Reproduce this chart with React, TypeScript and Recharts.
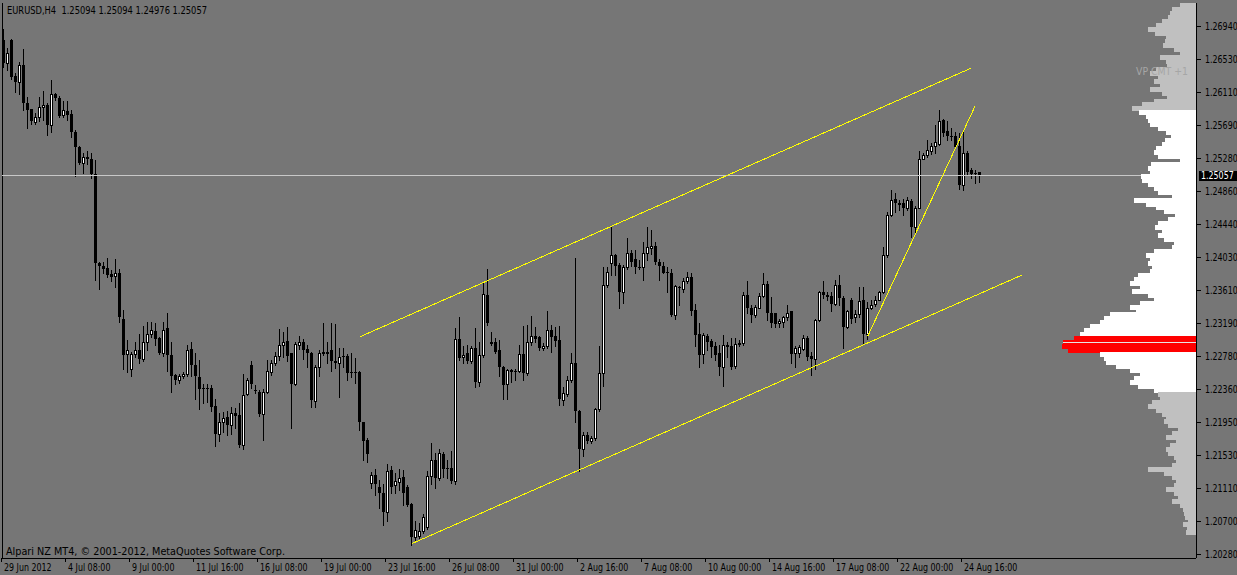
import React from 'react';
import { ComposedChart, BarChart, Bar, XAxis, YAxis, ReferenceLine } from 'recharts';

// ---------- EURUSD H4 candles (bar index 0 = 29 Jun 2012 16:00) ----------
const opens = [
  1.2677,1.2648,1.2676,1.2631,1.2623,1.2645,1.2597,1.2590,1.2573,1.2579,
  1.2592,1.2595,1.2569,1.2609,1.2604,1.2582,1.2587,1.2583,1.2561,1.2541,
  1.2522,1.2529,1.2527,1.2508,1.2395,1.2391,1.2389,1.2381,1.2379,1.2382,
  1.2325,1.2280,1.2261,1.2280,1.2285,1.2274,1.2296,1.2306,1.2310,1.2300,
  1.2282,1.2313,1.2279,1.2254,1.2247,1.2252,1.2255,1.2287,1.2266,1.2251,
  1.2237,1.2237,1.2237,1.2215,1.2180,1.2194,1.2201,1.2191,1.2206,1.2203,
  1.2166,1.2230,1.2266,1.2235,1.2232,1.2205,1.2232,1.2258,1.2269,1.2278,
  1.2292,1.2297,1.2281,1.2242,1.2292,1.2295,1.2287,1.2282,1.2221,1.2264,
  1.2281,1.2282,1.2285,1.2272,1.2269,1.2278,1.2278,1.2258,1.2257,1.2258,
  1.2195,1.2172,1.2118,1.2128,1.2113,1.2105,1.2081,1.2134,1.2115,1.2119,
  1.2125,1.2113,1.2091,1.2050,1.2051,1.2057,1.2062,1.2126,1.2147,1.2124,
  1.2154,1.2137,1.2136,1.2120,1.2299,1.2276,1.2281,1.2271,1.2288,1.2245,
  1.2279,1.2355,1.2296,1.2295,1.2285,1.2264,1.2242,1.2260,1.2259,1.2259,
  1.2280,1.2256,1.2295,1.2303,1.2302,1.2288,1.2290,1.2311,1.2303,1.2298,
  1.2222,1.2230,1.2248,1.2269,1.2209,1.2161,1.2178,1.2171,1.2174,1.2211,
  1.2256,1.2367,1.2395,1.2405,1.2393,1.2359,1.2390,1.2408,1.2400,1.2390,
  1.2390,1.2408,1.2414,1.2417,1.2397,1.2391,1.2384,1.2383,1.2330,1.2365,
  1.2362,1.2372,1.2378,1.2336,1.2306,1.2280,1.2303,1.2297,1.2290,1.2281,
  1.2264,1.2292,1.2290,1.2265,1.2294,1.2294,1.2355,1.2339,1.2330,1.2339,
  1.2354,1.2369,1.2332,1.2332,1.2319,1.2321,1.2327,1.2334,1.2281,1.2282,
  1.2287,1.2301,1.2278,1.2274,1.2323,1.2358,1.2355,1.2353,1.2343,1.2367,
  1.2351,1.2315,1.2349,1.2327,1.2331,1.2348,1.2306,1.2339,1.2343,1.2349,
  1.2358,1.2405,1.2456,1.2476,1.2471,1.2471,1.2465,1.2474,1.2441,1.2465,
  1.2527,1.2532,1.2536,1.2543,1.2545,1.2576,1.2562,1.2555,1.2555,1.2543,
  1.2494,1.2534,1.2512,1.2509,1.25094,
];
const highs = [
  1.2690,1.2666,1.2678,1.2635,1.2649,1.2665,1.2605,1.2590,1.2585,1.2605,
  1.2612,1.2597,1.2626,1.2610,1.2606,1.2600,1.2599,1.2588,1.2563,1.2543,
  1.2534,1.2536,1.2534,1.2525,1.2396,1.2396,1.2401,1.2386,1.2400,1.2387,
  1.2336,1.2298,1.2283,1.2295,1.2306,1.2316,1.2321,1.2321,1.2319,1.2302,
  1.2321,1.2332,1.2296,1.2255,1.2255,1.2257,1.2292,1.2295,1.2281,1.2273,
  1.2242,1.2242,1.2241,1.2224,1.2206,1.2207,1.2209,1.2214,1.2212,1.2218,
  1.2255,1.2250,1.2271,1.2241,1.2235,1.2236,1.2273,1.2273,1.2283,1.2312,
  1.2308,1.2314,1.2282,1.2295,1.2303,1.2299,1.2292,1.2283,1.2266,1.2285,
  1.2319,1.2295,1.2319,1.2318,1.2288,1.2288,1.2280,1.2281,1.2275,1.2259,
  1.2195,1.2174,1.2132,1.2135,1.2121,1.2116,1.2142,1.2139,1.2130,1.2135,
  1.2134,1.2115,1.2092,1.2069,1.2067,1.2078,1.2133,1.2168,1.2156,1.2161,
  1.2157,1.2147,1.2158,1.2313,1.2327,1.2290,1.2292,1.2290,1.2313,1.2296,
  1.2370,1.2388,1.2308,1.2300,1.2298,1.2265,1.2262,1.2262,1.2261,1.2292,
  1.2316,1.2317,1.2328,1.2315,1.2303,1.2294,1.2334,1.2317,1.2315,1.2316,
  1.2239,1.2253,1.2281,1.2401,1.2210,1.2182,1.2182,1.2177,1.2212,1.2290,
  1.2390,1.2390,1.2442,1.2407,1.2395,1.2393,1.2427,1.2412,1.2412,1.2399,
  1.2422,1.2441,1.2437,1.2422,1.2400,1.2397,1.2390,1.2388,1.2367,1.2366,
  1.2376,1.2384,1.2383,1.2344,1.2320,1.2307,1.2306,1.2299,1.2296,1.2292,
  1.2304,1.2296,1.2300,1.2301,1.2298,1.2358,1.2372,1.2342,1.2342,1.2357,
  1.2383,1.2372,1.2352,1.2332,1.2325,1.2328,1.2342,1.2335,1.2290,1.2292,
  1.2304,1.2303,1.2283,1.2325,1.2360,1.2372,1.2359,1.2359,1.2374,1.2380,
  1.2353,1.2336,1.2351,1.2336,1.2365,1.2365,1.2346,1.2348,1.2353,1.2360,
  1.2416,1.2459,1.2487,1.2483,1.2475,1.2476,1.2478,1.2476,1.2467,1.2536,
  1.2534,1.2551,1.2547,1.2569,1.2588,1.2577,1.2574,1.2565,1.2561,1.2559,
  1.2560,1.2536,1.2515,1.2513,1.25094,
];
const lows = [
  1.2643,1.2639,1.2627,1.2611,1.2609,1.2588,1.2566,1.2571,1.2571,1.2575,
  1.2576,1.2557,1.2560,1.2601,1.2579,1.2579,1.2576,1.2554,1.2505,1.2520,
  1.2509,1.2520,1.2503,1.2374,1.2362,1.2382,1.2378,1.2372,1.2365,1.2321,
  1.2262,1.2257,1.2253,1.2276,1.2269,1.2272,1.2285,1.2302,1.2292,1.2280,
  1.2278,1.2259,1.2233,1.2243,1.2244,1.2250,1.2253,1.2253,1.2224,1.2211,
  1.2219,1.2220,1.2209,1.2164,1.2171,1.2182,1.2178,1.2180,1.2187,1.2163,
  1.2160,1.2229,1.2237,1.2231,1.2202,1.2172,1.2231,1.2254,1.2266,1.2273,
  1.2277,1.2271,1.2187,1.2241,1.2287,1.2274,1.2264,1.2214,1.2214,1.2252,
  1.2279,1.2269,1.2259,1.2263,1.2226,1.2264,1.2247,1.2251,1.2244,1.2184,
  1.2147,1.2144,1.2111,1.2102,1.2086,1.2065,1.2070,1.2105,1.2105,1.2109,
  1.2090,1.2088,1.2039,1.2045,1.2048,1.2055,1.2060,1.2116,1.2111,1.2121,
  1.2125,1.2124,1.2118,1.2116,1.2273,1.2269,1.2269,1.2269,1.2239,1.2240,
  1.2277,1.2317,1.2292,1.2282,1.2253,1.2223,1.2224,1.2245,1.2247,1.2257,
  1.2247,1.2254,1.2292,1.2295,1.2286,1.2285,1.2288,1.2283,1.2290,1.2216,
  1.2216,1.2227,1.2245,1.2195,1.2133,1.2151,1.2168,1.2168,1.2172,1.2209,
  1.2240,1.2365,1.2380,1.2380,1.2339,1.2345,1.2387,1.2391,1.2382,1.2387,
  1.2374,1.2399,1.2407,1.2394,1.2374,1.2382,1.2359,1.2328,1.2325,1.2342,
  1.2358,1.2370,1.2330,1.2290,1.2264,1.2269,1.2285,1.2277,1.2273,1.2254,
  1.2240,1.2277,1.2262,1.2263,1.2290,1.2292,1.2332,1.2321,1.2327,1.2338,
  1.2352,1.2323,1.2315,1.2315,1.2314,1.2315,1.2323,1.2269,1.2264,1.2277,
  1.2285,1.2273,1.2254,1.2262,1.2322,1.2351,1.2348,1.2335,1.2342,1.2342,
  1.2288,1.2313,1.2319,1.2321,1.2327,1.2294,1.2299,1.2337,1.2341,1.2348,
  1.2357,1.2403,1.2454,1.2459,1.2462,1.2456,1.2462,1.2428,1.2432,1.2464,
  1.2526,1.2529,1.2533,1.2534,1.2544,1.2555,1.2551,1.2551,1.2540,1.2489,
  1.2487,1.2506,1.2502,1.2496,1.24976,
];
const closes = [
  1.2647,1.2660,1.2630,1.2623,1.2645,1.2597,1.2588,1.2574,1.2579,1.2592,
  1.2595,1.2569,1.2609,1.2603,1.2581,1.2588,1.2582,1.2560,1.2542,1.2522,
  1.2529,1.2527,1.2508,1.2395,1.2391,1.2388,1.2380,1.2378,1.2382,1.2327,
  1.2279,1.2286,1.2280,1.2285,1.2274,1.2296,1.2306,1.2311,1.2299,1.2281,
  1.2311,1.2279,1.2253,1.2247,1.2253,1.2255,1.2286,1.2266,1.2253,1.2236,
  1.2236,1.2237,1.2214,1.2180,1.2194,1.2200,1.2191,1.2206,1.2202,1.2166,
  1.2229,1.2248,1.2243,1.2235,1.2205,1.2233,1.2259,1.2269,1.2278,1.2292,
  1.2296,1.2278,1.2242,1.2293,1.2295,1.2286,1.2281,1.2222,1.2264,1.2282,
  1.2283,1.2283,1.2272,1.2269,1.2276,1.2276,1.2256,1.2256,1.2257,1.2194,
  1.2171,1.2154,1.2128,1.2116,1.2105,1.2081,1.2133,1.2113,1.2120,1.2124,
  1.2105,1.2090,1.2050,1.2058,1.2057,1.2075,1.2126,1.2147,1.2124,1.2156,
  1.2135,1.2135,1.2120,1.2299,1.2275,1.2279,1.2271,1.2288,1.2245,1.2279,
  1.2356,1.2319,1.2293,1.2283,1.2264,1.2241,1.2260,1.2258,1.2259,1.2280,
  1.2256,1.2295,1.2303,1.2299,1.2288,1.2290,1.2311,1.2302,1.2297,1.2224,
  1.2231,1.2248,1.2269,1.2209,1.2160,1.2178,1.2171,1.2174,1.2211,1.2256,
  1.2367,1.2384,1.2405,1.2391,1.2359,1.2390,1.2408,1.2397,1.2390,1.2390,
  1.2408,1.2415,1.2417,1.2397,1.2391,1.2383,1.2382,1.2330,1.2366,1.2365,
  1.2373,1.2377,1.2335,1.2304,1.2279,1.2304,1.2296,1.2289,1.2279,1.2264,
  1.2292,1.2289,1.2264,1.2293,1.2292,1.2355,1.2338,1.2330,1.2340,1.2354,
  1.2369,1.2332,1.2320,1.2318,1.2322,1.2327,1.2332,1.2280,1.2288,1.2289,
  1.2301,1.2277,1.2274,1.2323,1.2358,1.2355,1.2352,1.2343,1.2367,1.2351,
  1.2315,1.2334,1.2325,1.2331,1.2347,1.2306,1.2339,1.2342,1.2349,1.2358,
  1.2405,1.2456,1.2475,1.2471,1.2468,1.2465,1.2475,1.2441,1.2465,1.2527,
  1.2532,1.2538,1.2543,1.2548,1.2574,1.2559,1.2555,1.2554,1.2542,1.2494,
  1.2534,1.2510,1.2508,1.2508,1.25057,
];

// ---------- axes ----------
const xTickBars = [0, 16, 32, 48, 64, 80, 96, 112, 128, 144, 160, 176, 192, 208, 224, 240];
const xTickLabels = [
  '29 Jun 2012', '4 Jul 08:00', '9 Jul 00:00', '11 Jul 16:00', '16 Jul 08:00', '19 Jul 00:00',
  '23 Jul 16:00', '26 Jul 08:00', '31 Jul 00:00', '2 Aug 16:00', '7 Aug 08:00', '10 Aug 00:00',
  '14 Aug 16:00', '17 Aug 08:00', '22 Aug 00:00', '24 Aug 16:00',
];
const priceTicks = [
  1.2694, 1.2653, 1.2611, 1.2569, 1.2528, 1.2486, 1.2444, 1.2403, 1.2361,
  1.2319, 1.2278, 1.2236, 1.2195, 1.2153, 1.2111, 1.2070, 1.2028,
];
const symbol = 'EURUSD,H4';
const lastPrice = 1.25057;

// ---------- drawn trend lines (bar index, price) ----------
const channelUpper = [{ bar: 88.95, price: 1.2302 }, { bar: 241.75, price: 1.2641 }];
const channelLower = [{ bar: 101.95, price: 1.2041 }, { bar: 254.5, price: 1.2380 }];
const trendSteep = [{ bar: 215.95, price: 1.2303 }, { bar: 242.75, price: 1.2593 }];

// ---------- volume profile (price level -> volume) ----------
const profileLevels = [
  1.2720,1.2715,1.2710,1.2705,1.2700,1.2695,1.2690,1.2685,1.2680,1.2675,
  1.2670,1.2665,1.2660,1.2655,1.2650,1.2645,1.2640,1.2635,1.2630,1.2625,
  1.2620,1.2615,1.2610,1.2605,1.2600,1.2595,1.2590,1.2585,1.2580,1.2575,
  1.2570,1.2565,1.2560,1.2555,1.2550,1.2545,1.2540,1.2535,1.2530,1.2525,
  1.2520,1.2515,1.2510,1.2505,1.2500,1.2495,1.2490,1.2485,1.2480,1.2475,
  1.2470,1.2465,1.2460,1.2455,1.2450,1.2445,1.2440,1.2435,1.2430,1.2425,
  1.2420,1.2415,1.2410,1.2405,1.2400,1.2395,1.2390,1.2385,1.2380,1.2375,
  1.2370,1.2365,1.2360,1.2355,1.2350,1.2345,1.2340,1.2335,1.2330,1.2325,
  1.2320,1.2315,1.2310,1.2305,1.2300,1.2295,1.2290,1.2285,1.2280,1.2275,
  1.2270,1.2265,1.2260,1.2255,1.2250,1.2245,1.2240,1.2235,1.2230,1.2225,
  1.2220,1.2215,1.2210,1.2205,1.2200,1.2195,1.2190,1.2185,1.2180,1.2175,
  1.2170,1.2165,1.2160,1.2155,1.2150,1.2145,1.2140,1.2135,1.2130,1.2125,
  1.2120,1.2115,1.2110,1.2105,1.2100,1.2095,1.2090,1.2085,1.2080,1.2075,
  1.2070,1.2065,1.2060,1.2055,
];
const profileVolumes = [
  16,24,26,28,34,40,48,41,30,31,
  33,22,16,36,30,29,40,46,38,42,
  36,46,34,29,42,54,64,57,50,48,
  46,38,30,25,31,34,40,42,38,16,
  45,48,46,55,54,48,42,38,24,62,
  50,40,32,21,28,38,41,34,38,32,
  22,24,42,50,46,48,44,46,58,62,
  66,56,64,48,42,56,66,60,86,92,
  96,106,112,116,122,133,134,128,96,92,
  90,80,66,56,62,66,58,42,38,36,
  44,48,40,34,30,32,28,18,24,30,
  20,26,30,28,22,20,24,48,32,24,
  20,22,30,22,18,24,16,13,12,11,
  8,13,9,10,
];
const valueAreaHigh = 1.2585;
const valueAreaLow = 1.2235;
const pocHigh = 1.2300;
const pocLow = 1.2285;
const pocLine = 1.2295;

// ---------- derived tables ----------
const candles = opens.map((open, i) => ({ i, open, high: highs[i], low: lows[i], close: closes[i] }));
const profile = profileLevels.map((price, k) => ({ price, vol: profileVolumes[k] }));
const lastIdx = opens.length - 1;

// ---------- layout / style ----------
const W = 1237;
const H = 575;
const X_DOMAIN: [number, number] = [-0.5, 298];
const Y_DOMAIN: [number, number] = [1.20229, 1.27233];
const BG = '#767676';
const FONT = 'DejaVu Sans, sans-serif';
const BIN_PX = 4;

const Candle = (p: any) => {
  const { x, y, width, height, payload } = p;
  if (x == null || y == null || !payload) return null;
  const top = Math.min(y, y + height);
  const h = Math.abs(height);
  const { open, close, high, low } = payload;
  const span = high - low || 1e-9;
  const yOf = (v: number) => top + ((high - v) / span) * h;
  const cx = Math.round(x + width / 2) - 0.5;
  const yo = yOf(open);
  const yc = yOf(close);
  const bt = Math.round(Math.min(yo, yc));
  const bb = Math.round(Math.max(yo, yc));
  const bh = Math.max(1, bb - bt);
  const bull = close > open;
  return (
    <g>
      <line x1={cx} x2={cx} y1={Math.round(top)} y2={Math.round(top + h) + 1} stroke="#000" strokeWidth={1} />
      <rect x={cx - 1.5} y={bt} width={3} height={bh + (bull ? 1 : 0)} fill="#000" />
      {bull && bh > 1 && <rect x={cx - 0.5} y={bt + 1} width={1} height={bh - 1} fill="#fff" />}
    </g>
  );
};

const DateTick = (p: any) => {
  const { x, y, payload } = p;
  const bar = Math.round(payload.value + 0.5);
  const k = xTickBars.indexOf(bar);
  const tx = Math.round(x) - 0.5;
  return (
    <g>
      <line x1={tx} x2={tx} y1={y} y2={y + 4} stroke="#000" />
      <text transform={`translate(${tx + 2.5},${y + 13}) scale(0.72,1)`} fontFamily={FONT} fontSize={11} fill="#000">
        {k >= 0 ? xTickLabels[k] : ''}
      </text>
    </g>
  );
};

const PriceTick = (p: any) => {
  const { x, y, payload } = p;
  const v = payload.value as number;
  const label = v.toFixed(5);
  if (v === lastPrice) {
    return (
      <g>
        <rect x={x + 3} y={Math.round(y) - 4.5} width={45} height={10} fill="#000" />
        <text transform={`translate(${x + 5},${y + 4}) scale(0.72,1)`} fontFamily={FONT} fontSize={11} fill="#fff">{label}</text>
      </g>
    );
  }
  const ty = Math.round(y) + 0.5;
  return (
    <g>
      <line x1={x} x2={x + 5} y1={ty} y2={ty} stroke="#000" />
      <text transform={`translate(${x + 9},${y + 4}) scale(0.72,1)`} fontFamily={FONT} fontSize={11} fill="#000">{label}</text>
    </g>
  );
};

const profileColor = (price: number) => {
  if (price >= pocLow - 1e-9 && price <= pocHigh + 1e-9) return '#ff0000';
  if (price <= valueAreaHigh + 1e-9 && price >= valueAreaLow - 1e-9) return '#ffffff';
  return '#c0c0c0';
};

const ProfileBar = (p: any) => {
  const { x, y, width, height, payload } = p;
  if (x == null || y == null || !payload) return null;
  const left = Math.min(x, x + width);
  const cy = y + height / 2;
  return (
    <rect
      x={left}
      y={Math.round(cy - BIN_PX / 2)}
      width={Math.abs(width)}
      height={BIN_PX + 1}
      fill={profileColor(payload.price)}
    />
  );
};

const seg = (pts: { bar: number; price: number }[]) => pts.map((q) => ({ x: q.bar, y: q.price }));

export default function App() {
  const b = candles[lastIdx];
  const title = `${symbol}  ${b.open.toFixed(5)} ${b.high.toFixed(5)} ${b.low.toFixed(5)} ${b.close.toFixed(5)}`;
  return (
    <div className="mt4" style={{ position: 'absolute', left: 0, top: 0, width: W, height: H, background: BG, overflow: 'hidden' }}>
      <style>{`.mt4 svg line, .mt4 svg rect, .mt4 svg path { shape-rendering: crispEdges; }`}</style>
      <div style={{ position: 'absolute', left: 0, top: 0 }}>
        <ComposedChart width={W} height={H} data={candles} margin={{ top: 3, right: 0, bottom: 0, left: 2 }}>
          <XAxis
            type="number"
            dataKey="i"
            domain={X_DOMAIN}
            allowDataOverflow
            ticks={xTickBars.map((t) => t - 0.5)}
            interval={0}
            tickSize={0}
            tickMargin={0}
            tickLine={false}
            axisLine={{ stroke: '#000' }}
            height={17}
            tick={DateTick}
          />
          <YAxis
            type="number"
            orientation="right"
            domain={Y_DOMAIN}
            allowDataOverflow
            ticks={[...priceTicks, lastPrice]}
            interval={0}
            tickSize={0}
            tickMargin={0}
            tickLine={false}
            axisLine={{ stroke: '#000' }}
            width={41}
            tick={PriceTick}
          />
          <ReferenceLine x={X_DOMAIN[0]} stroke="#000" />
          <ReferenceLine y={lastPrice} stroke="#c8c8c8" />
          <Bar dataKey={(d: any) => [d.low, d.high]} barSize={3} shape={Candle} isAnimationActive={false} />
          <ReferenceLine segment={seg(channelUpper)} stroke="#ffff00" strokeWidth={1} />
          <ReferenceLine segment={seg(channelLower)} stroke="#ffff00" strokeWidth={1} />
          <ReferenceLine segment={seg(trendSteep)} stroke="#ffff00" strokeWidth={1} />
        </ComposedChart>
      </div>
      <div style={{ position: 'absolute', left: 0, top: 0 }}>
        <BarChart layout="vertical" width={W} height={H} data={profile} margin={{ top: 3, right: 41, bottom: 17, left: 2 }}>
          <XAxis type="number" domain={[0, 1194]} reversed hide allowDataOverflow />
          <YAxis type="number" dataKey="price" domain={Y_DOMAIN} reversed hide allowDataOverflow />
          <Bar dataKey="vol" barSize={BIN_PX} shape={ProfileBar} isAnimationActive={false} />
          <ReferenceLine segment={[{ x: 133, y: pocLine }, { x: 0, y: pocLine }]} stroke="#e6e6e6" />
        </BarChart>
      </div>
      <svg width={W} height={H} style={{ position: 'absolute', left: 0, top: 0, pointerEvents: 'none' }}>
        <text x={7} y={14} fontFamily={FONT} fontSize={11} fill="#000" textLength={200} lengthAdjust="spacingAndGlyphs" style={{ whiteSpace: 'pre' }}>
          {title}
        </text>
        <text x={6} y={555} fontFamily={FONT} fontSize={10.5} fill="#000" textLength={279} lengthAdjust="spacingAndGlyphs">
          Alpari NZ MT4, © 2001-2012, MetaQuotes Software Corp.
        </text>
        <text x={1136} y={75} fontFamily={FONT} fontSize={10.5} fill="#a6a6a6" textLength={52} lengthAdjust="spacingAndGlyphs">
          VP CMT +1
        </text>
      </svg>
    </div>
  );
}
